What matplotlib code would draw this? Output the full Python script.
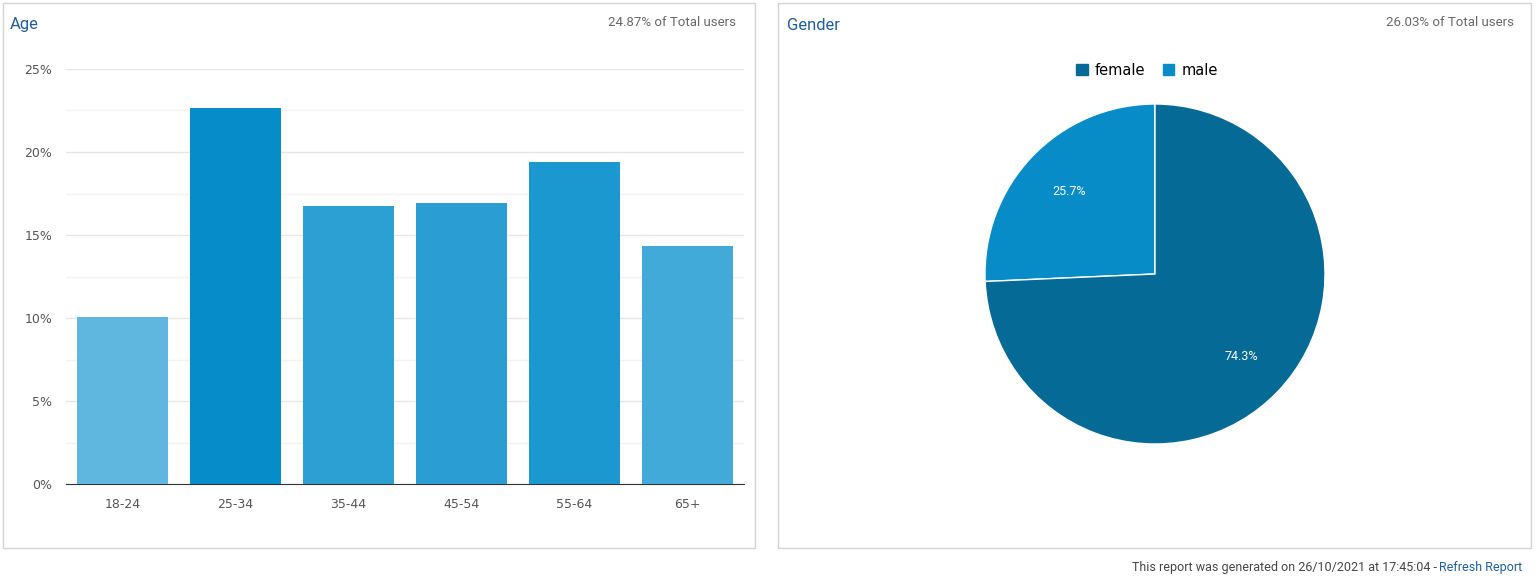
import matplotlib
matplotlib.use("Agg")
import matplotlib.pyplot as plt
from matplotlib.patches import Rectangle, Patch

age_groups = ["18-24", "25-34", "35-44", "45-54", "55-64", "65+"]
age_pct = [10.06, 22.65, 16.75, 16.93, 19.4, 14.34]
age_colors = ["#5fb6de", "#068cc9", "#2c9fd3", "#2a9ed3", "#1c98d0", "#42aad9"]
gender_labels = ["male", "female"]
gender_pct = [25.7, 74.3]
gender_colors = ["#078cc7", "#056a96"]
yticks = [0, 5, 10, 15, 20, 25]

W, H = 1536, 580
fig = plt.figure(figsize=(W/100, H/100), dpi=100)
fig.patch.set_facecolor("white")

def px(x, y, w, h):
    return [x/W, 1-(y+h)/H, w/W, h/H]

for (x0, x1) in [(3, 755), (778, 1531)]:
    fig.patches.append(Rectangle((x0/W, 1-548/H), (x1-x0)/W, 545/H, transform=fig.transFigure,
                                 fill=False, ec="#d4d4d4", lw=1))

fig.text(10/W, 1-25/H, "Age", color="#1f5c99", fontsize=12, va="center", family="Roboto")
fig.text(736/W, 1-23/H, "24.87% of Total users", color="#666666", fontsize=9.5, va="center", ha="right", family="Roboto")
fig.text(787/W, 1-25/H, "Gender", color="#1f5c99", fontsize=12, va="center", family="Roboto")
fig.text(1514/W, 1-23/H, "26.03% of Total users", color="#666666", fontsize=9.5, va="center", ha="right", family="Roboto")
fig.text(1437/W, 1-567/H, "This report was generated on 26/10/2021 at 17:45:04 -", color="#444444",
         fontsize=9, va="center", ha="right", family="Roboto")
fig.text(1522/W, 1-567/H, "Refresh Report", color="#1f5c99", fontsize=9, va="center", ha="right", family="Roboto")

ax = fig.add_axes(px(66, 69, 678, 415))
x = list(range(len(age_groups)))
ax.bar(x, age_pct, width=0.8, color=age_colors, zorder=3)
ax.set_xlim(-0.5, len(age_groups)-0.5)
ax.set_ylim(0, 25)
ax.set_yticks(yticks)
ax.set_yticklabels([f"{v}%" for v in yticks])
ax.set_yticks([2.5, 7.5, 12.5, 17.5, 22.5], minor=True)
ax.grid(axis="y", which="major", color="#e6e6e6", lw=1, zorder=0)
ax.grid(axis="y", which="minor", color="#f3f3f3", lw=1, zorder=0)
ax.set_xticks(x)
ax.set_xticklabels(age_groups)
ax.tick_params(axis="both", which="both", length=0, labelsize=9, colors="#555555", pad=10)
for s in ["top", "right", "left"]:
    ax.spines[s].set_visible(False)
ax.spines["bottom"].set_color("#333333")

pax = fig.add_axes(px(985, 104, 340, 340))
wedges, _, autotexts = pax.pie(gender_pct, colors=gender_colors, startangle=90, counterclock=True,
                               autopct="%.1f%%", pctdistance=0.7,
                               wedgeprops=dict(edgecolor="white", linewidth=1),
                               textprops=dict(color="white", fontsize=9, family="Roboto"))
pax.set_xlim(-1, 1)
pax.set_ylim(-1, 1)
pax.set_aspect("equal")
handles = [Patch(color=gender_colors[1], label="female"), Patch(color=gender_colors[0], label="male")]
fig.legend(handles=handles, loc="center", bbox_to_anchor=(1147/W, 1-70/H), ncol=2, frameon=False,
           fontsize=10.5, handlelength=0.8, handleheight=0.8, columnspacing=1.2, handletextpad=0.5)
fig.savefig("out.png", dpi=100)
